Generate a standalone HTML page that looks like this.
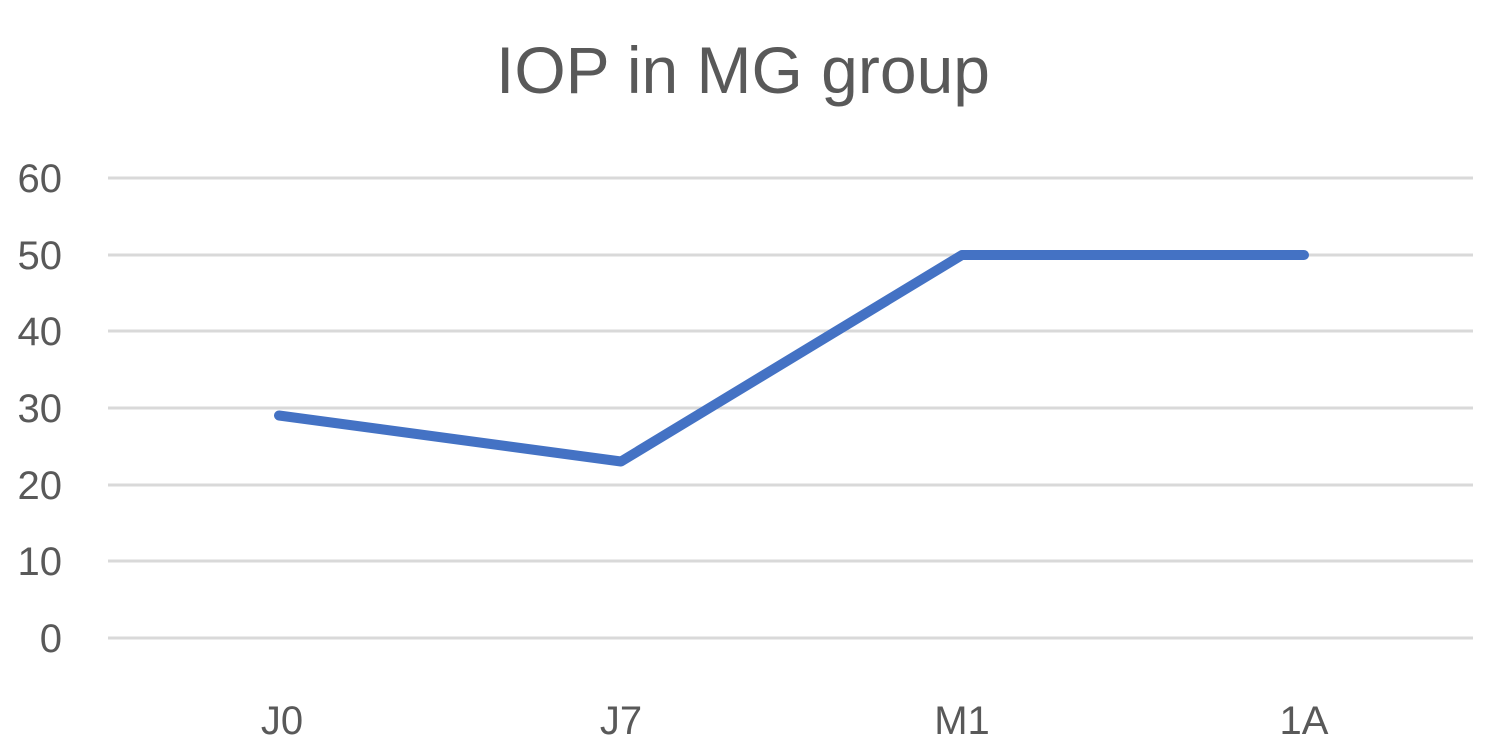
<!DOCTYPE html>
<html><head><meta charset="utf-8"><style>
html,body{margin:0;padding:0;background:#fff;}
</style></head><body>
<svg width="1500" height="755" xmlns="http://www.w3.org/2000/svg" style="display:block">
<rect width="1500" height="755" fill="#fff"/>
<text x="743" y="93" text-anchor="middle" font-family="Liberation Sans, sans-serif" font-size="66" fill="#595959">IOP in MG group</text>
<g stroke="#d9d9d9" stroke-width="3">
<line x1="108" x2="1473" y1="178" y2="178"/>
<line x1="108" x2="1473" y1="255" y2="255"/>
<line x1="108" x2="1473" y1="331" y2="331"/>
<line x1="108" x2="1473" y1="408" y2="408"/>
<line x1="108" x2="1473" y1="485" y2="485"/>
<line x1="108" x2="1473" y1="561" y2="561"/>
<line x1="108" x2="1473" y1="638" y2="638"/>
</g>
<g font-family="Liberation Sans, sans-serif" font-size="40" fill="#595959" text-anchor="end">
<text x="62" y="192">60</text>
<text x="62" y="269">50</text>
<text x="62" y="345">40</text>
<text x="62" y="422">30</text>
<text x="62" y="499">20</text>
<text x="62" y="575">10</text>
<text x="62" y="652">0</text>
</g>
<g font-family="Liberation Sans, sans-serif" font-size="40" fill="#595959" text-anchor="middle">
<text x="282" y="734">J0</text>
<text x="621" y="734">J7</text>
<text x="962" y="734">M1</text>
<text x="1304" y="734">1A</text>
</g>
<polyline points="279,415.5 621,461.5 962,255 1304,255" fill="none" stroke="#4472c4" stroke-width="10" stroke-linejoin="round" stroke-linecap="round"/>
</svg>
</body></html>
